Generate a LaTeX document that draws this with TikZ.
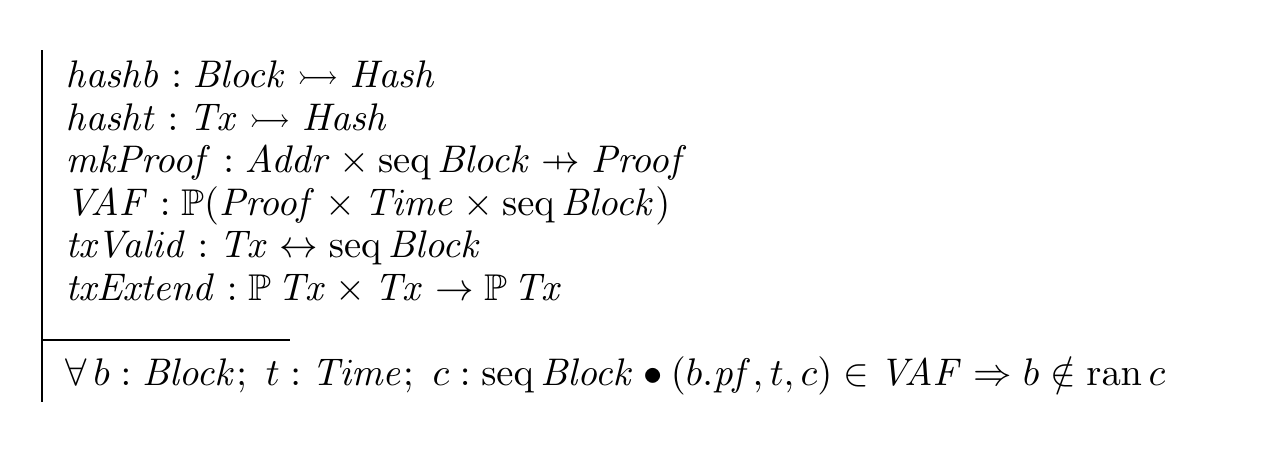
\documentclass[tikz,border=0pt]{standalone}
\usepackage{amsmath,amssymb}
\newcommand{\zpfun}{\mathrel{\ooalign{\hfil$\mapstochar\mkern5mu$\hfil\cr$\rightarrow$\cr}}}
\newcommand{\zseq}{\operatorname{seq}}
\newcommand{\zran}{\operatorname{ran}}
\newcommand{\zi}[1]{\mathit{#1}}
\tikzset{
  zline/.style={anchor=base west, inner sep=0pt, font=\fontsize{10.6}{12}\selectfont},
  zrule/.style={line width=0.6pt}
}
\begin{document}
\begin{tikzpicture}
    \useasboundingbox (0,0) rectangle (12.73,-4.73);

    % Declarations
    \node[zline] (d1) at (0.65,-0.87) {$\zi{hashb} : \zi{Block} \rightarrowtail \zi{Hash}$};
    \node[zline] (d2) at (0.65,-1.30) {$\zi{hasht} : \zi{Tx} \rightarrowtail \zi{Hash}$};
    \node[zline] (d3) at (0.65,-1.72) {$\zi{mkProof} : \zi{Addr} \times \zseq \zi{Block} \zpfun \zi{Proof}$};
    \node[zline] (d4) at (0.65,-2.15) {$\zi{VAF} : \mathbb{P}(\zi{Proof} \times \zi{Time} \times \zseq \zi{Block})$};
    \node[zline] (d5) at (0.65,-2.57) {$\zi{txValid} : \zi{Tx} \leftrightarrow \zseq \zi{Block}$};
    \node[zline] (d6) at (0.65,-3.00) {$\zi{txExtend} : \mathbb{P}\, \zi{Tx} \times \zi{Tx} \rightarrow \mathbb{P}\, \zi{Tx}$};

    % Predicate
    \node[zline] (p1) at (0.65,-3.85)
      {$\forall\, b : \zi{Block};\ t : \zi{Time};\ c : \zseq \zi{Block} \bullet (b.\zi{pf}, t, c) \in \zi{VAF} \Rightarrow b \notin \zran c$};

    % Box rules
    \coordinate (top) at (0.42,-0.50);
    \coordinate (bot) at (0.42,-4.02);
    \coordinate (mid) at (0.42,-3.40);
    \coordinate (midend) at (2.90,-3.40);
    \draw[zrule] (top) -- (bot);
    \draw[zrule] (mid) -- (midend);
\end{tikzpicture}
\end{document}
